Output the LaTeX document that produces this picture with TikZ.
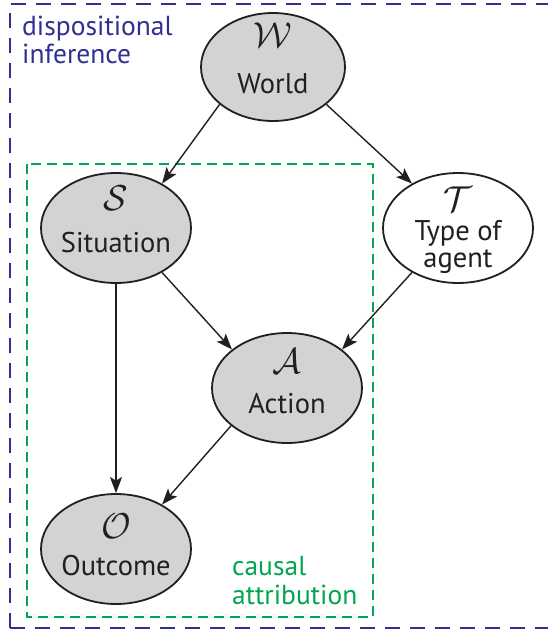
\RequirePackage{fix-cm}
\documentclass[tikz,border=0pt]{standalone}
\usepackage{fontspec}
\setmainfont{PT Sans}
\usetikzlibrary{shapes.geometric,arrows.meta}
\definecolor{dispblue}{RGB}{46,49,146}
\definecolor{causgreen}{RGB}{0,166,81}
\definecolor{nodegray}{RGB}{209,211,212}
\definecolor{inkblack}{RGB}{35,31,32}
\tikzset{
  ell/.style={ellipse,draw=inkblack,line width=1.8pt,minimum width=150pt,minimum height=110pt,inner sep=0pt},
  grayell/.style={ell,fill=nodegray},
  whiteell/.style={ell,fill=white},
  sym/.style={anchor=base,inner sep=0pt,text=inkblack,font=\fontsize{36}{36}\selectfont},
  lab/.style={anchor=base,inner sep=0pt,text=inkblack,font=\fontsize{28.5}{28.5}\selectfont},
  edge/.style={draw=inkblack,line width=1.4pt,-{Stealth[length=16pt,width=12pt,inset=3.5pt]}},
  boxlab/.style={anchor=base west,inner sep=0pt,font=\fontsize{27.5}{27.5}\selectfont}
}
\begin{document}
\begin{tikzpicture}[x=1pt,y=-1pt]
\clip (0,0) rectangle (548,633);
\fill[white] (0,0) rectangle (548,633);
% boxes
\draw[dispblue,line width=2.8pt,dash pattern=on 15pt off 10pt] (10,628) -- (10,4) -- (575,4);
\draw[dispblue,line width=2.8pt,dash pattern=on 15pt off 10pt] (10,628) -- (575,628);
\draw[causgreen,line width=2.4pt,dash pattern=on 10pt off 6pt] (27,164) rectangle (373,617);
\node[boxlab,text=dispblue] (dispA) at (22,35) {dispositional};
\node[boxlab,text=dispblue] (dispB) at (22,63) {inference};
\node[boxlab,text=causgreen] (causA) at (232,575) {causal};
\node[boxlab,text=causgreen] (causB) at (232,604) {attribution};
% nodes
\node[grayell,minimum width=144pt,minimum height=108pt] (W) at (273,67) {};
\node[grayell] (S) at (116,228) {};
\node[whiteell] (T) at (458,228) {};
\node[grayell] (A) at (287,388) {};
\node[grayell] (O) at (116,549) {};
% texts
\node[sym] (Wsym) at (273,47) {$\mathcal{W}$};
\node[lab] (Wlab) at (273,93) {World};
\node[sym] (Ssym) at (116,210) {$\mathcal{S}$};
\node[lab] (Slab) at (116,252) {Situation};
\node[sym] (Tsym) at (458,211) {$\mathcal{T}$};
\node[lab] (Tlab1) at (458,240) {Type of};
\node[lab] (Tlab2) at (458,267) {agent};
\node[sym] (Asym) at (287,373) {$\mathcal{A}$};
\node[lab] (Alab) at (287,413) {Action};
\node[sym] (Osym) at (116,538) {$\mathcal{O}$};
\node[lab] (Olab) at (116,575) {Outcome};
% edges
\draw[edge] (W.215) -- (S.44);
\draw[edge] (W.325) -- (T.136);
\draw[edge] (S.316) -- (A.145);
\draw[edge] (T.224) -- (A.35);
\draw[edge] (A.214) -- (O.44);
\draw[edge] (S.270) -- (O.90);
\end{tikzpicture}
\end{document}
